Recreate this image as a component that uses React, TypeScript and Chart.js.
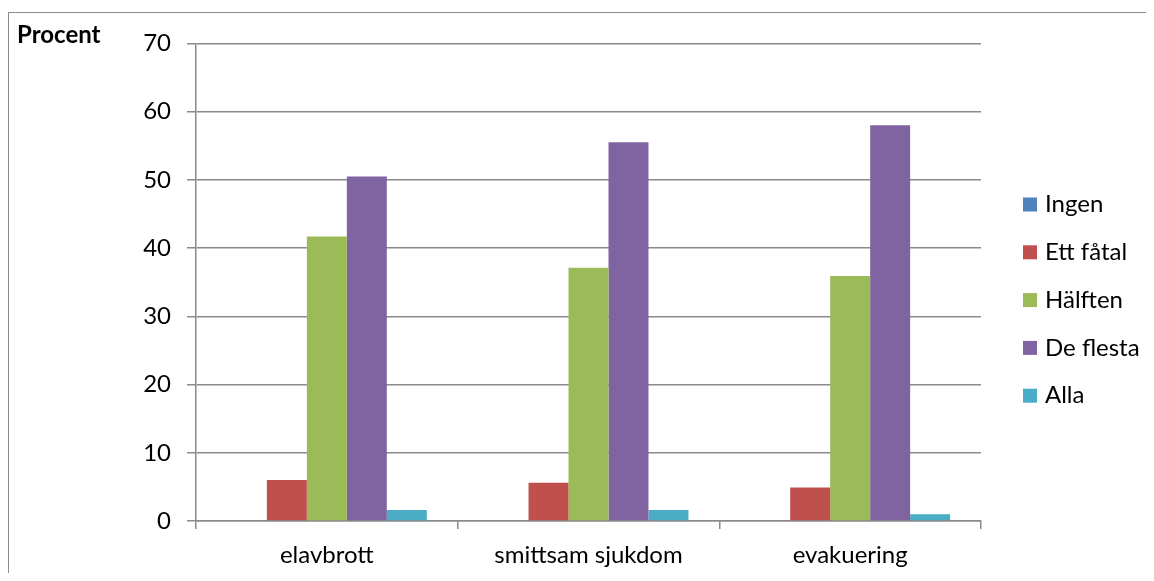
import React, { useEffect, useRef } from "react";
import { Chart, registerables } from "chart.js";

Chart.register(...registerables);

// Categories along the x axis
const categories = ["elavbrott", "smittsam sjukdom", "evakuering"];

// Series names (legend) and their values, in percent
const seriesNames = ["Ingen", "Ett fåtal", "Hälften", "De flesta", "Alla"];
const ingen = [0, 0, 0];
const ettFatal = [6.0, 5.6, 4.9];
const halften = [41.7, 37.1, 35.9];
const deFlesta = [50.5, 55.5, 58.0];
const alla = [1.6, 1.6, 1.0];

const seriesColors = ["#4F81BD", "#C0504D", "#9BBB59", "#8064A2", "#4BACC6"];

// Y axis range and tick step
const yMin = 0;
const yMax = 70;
const yStep = 10;
const yTitle = "Procent";

const FONT = "Lato, 'Open Sans', sans-serif";
const FONT_SIZE = 24;
const GRID = "#8a8a8a";

// Draws the right-hand legend and the y axis caption in the top-left corner
const sideLegend = {
  id: "sideLegend",
  afterDraw(chart: any) {
    const ctx = chart.ctx;
    ctx.save();
    ctx.font = `${FONT_SIZE}px ${FONT}`;
    ctx.textBaseline = "middle";
    ctx.textAlign = "left";
    chart.data.datasets.forEach((ds: any, i: number) => {
      const cy = 191.5 + i * 47.8;
      ctx.fillStyle = ds.backgroundColor;
      ctx.fillRect(1014, cy - 7, 14, 14);
      ctx.fillStyle = "#000";
      ctx.fillText(ds.label, 1036, cy);
    });
    ctx.font = `bold ${FONT_SIZE}px ${FONT}`;
    ctx.textBaseline = "alphabetic";
    ctx.fillStyle = "#000";
    ctx.fillText(yTitle, 8, 30);
    ctx.restore();
  },
};

export default function App() {
  const canvasRef = useRef<HTMLCanvasElement | null>(null);

  useEffect(() => {
    if (!canvasRef.current) return;
    const values = [ingen, ettFatal, halften, deFlesta, alla];
    const chart = new Chart(canvasRef.current, {
      type: "bar",
      data: {
        labels: categories,
        datasets: seriesNames.map((name, i) => ({
          label: name,
          data: values[i],
          backgroundColor: seriesColors[i],
          borderWidth: 0,
          categoryPercentage: 0.764,
          barPercentage: 1.0,
        })),
      },
      options: {
        animation: false,
        responsive: true,
        maintainAspectRatio: false,
        layout: { padding: { top: 29, right: 165, left: 0, bottom: 0 } },
        plugins: {
          legend: { display: false },
          tooltip: { enabled: false },
          title: { display: false },
        },
        scales: {
          x: {
            grid: {
              offset: true,
              drawOnChartArea: false,
              drawTicks: true,
              tickLength: 8,
              color: GRID,
              lineWidth: 1.5,
            },
            border: { display: true, color: GRID, width: 1.5 },
            ticks: {
              color: "#000",
              font: { family: FONT, size: FONT_SIZE },
              padding: 12,
              maxRotation: 0,
            },
            afterFit(scale: any) {
              scale.height = 52;
            },
          },
          y: {
            min: yMin,
            max: yMax,
            ticks: {
              stepSize: yStep,
              color: "#000",
              font: { family: FONT, size: FONT_SIZE },
              padding: 16,
            },
            grid: {
              color: GRID,
              lineWidth: 1.5,
              drawTicks: true,
              tickLength: 9,
            },
            border: { display: true, color: GRID, width: 1.5 },
            afterFit(scale: any) {
              scale.width = 187;
            },
          },
        },
      },
      plugins: [sideLegend],
    });
    return () => chart.destroy();
  }, []);

  return (
    <div style={{ paddingTop: 4 }}>
      <div
        style={{
          width: 1137,
          height: 560,
          borderTop: "1px solid #8c8c8c",
          borderLeft: "1px solid #8c8c8c",
          position: "relative",
          background: "#fff",
        }}
      >
        <canvas ref={canvasRef} />
      </div>
    </div>
  );
}
